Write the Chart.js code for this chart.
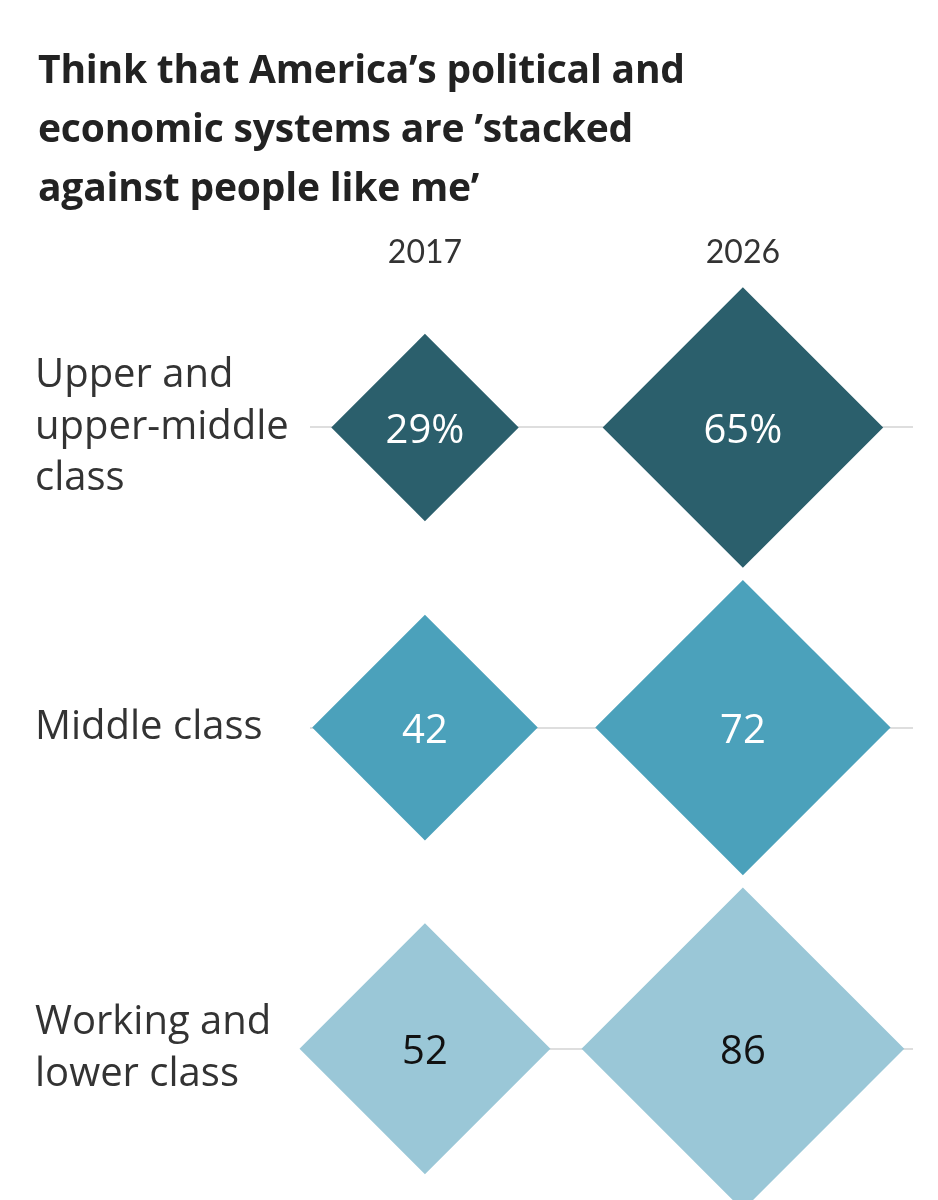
<!DOCTYPE html>
<html><head><meta charset="utf-8">
<script src="https://cdn.jsdelivr.net/npm/chart.js@4.4.1/dist/chart.umd.min.js"></script>
<style>
html,body{margin:0;padding:0;background:#fff;}
#wrap{position:relative;width:938px;height:1200px;overflow:hidden;}
#title{position:absolute;left:38px;top:38px;font:700 39px "Open Sans", sans-serif;line-height:59px;color:#222;letter-spacing:-0.2px;}
canvas{position:absolute;left:0;top:0;}
</style></head><body>
<div id="wrap"><canvas id="c" width="938" height="1200"></canvas>
<div id="title">Think that America’s political and<br>economic systems are ’stacked<br>against people like me’</div></div>
<script>
// ---- data ----
const years = ['2017', '2026'];
const classLabels = [['Upper and', 'upper-middle', 'class'], ['Middle class'], ['Working and', 'lower class']];
const values2017 = [29, 42, 52];
const values2026 = [65, 72, 86];

// ---- styles ----
const fills = ['#2b5f6c', '#4ba1bb', '#9ac7d7'];
const labelColors = ['#ffffff', '#ffffff', '#111111'];
const K = 17.4;           // diamond half-diagonal per sqrt(value)
const ROW_GAP = 12;
const radius = v => K * Math.sqrt(v);

// stack rows by their largest diamond
const rowMax = values2017.map((v, i) => Math.max(v, values2026[i]));
const rowPos = [];
rowMax.forEach((m, i) => {
  rowPos.push(i === 0 ? 0 : rowPos[i - 1] + radius(rowMax[i - 1]) + radius(m) + ROW_GAP);
});

const datasets = classLabels.map((lab, i) => {
  const vals = [values2017[i], values2026[i]];
  return {
    label: lab.join(' '),
    data: vals.map((v, j) => ({ x: j, y: rowPos[i], r: radius(v) })),
    valueText: vals.map(v => i === 0 ? v + '%' : String(v)),
    labelColor: labelColors[i],
    backgroundColor: fills[i],
    borderWidth: 0,
    pointStyle: 'rectRot',
    clip: false
  };
});

const valueLabels = {
  id: 'valueLabels',
  afterDatasetsDraw(chart) {
    const ctx = chart.ctx;
    chart.data.datasets.forEach((ds, di) => {
      chart.getDatasetMeta(di).data.forEach((el, i) => {
        ctx.save();
        ctx.fillStyle = ds.labelColor;
        ctx.font = '400 40px "Open Sans"';
        ctx.textAlign = 'center';
        ctx.textBaseline = 'middle';
        ctx.fillText(ds.valueText[i], el.x, el.y + 4);
        ctx.restore();
      });
    });
  }
};

new Chart(document.getElementById('c'), {
  type: 'bubble',
  data: { datasets },
  plugins: [valueLabels],
  options: {
    responsive: false,
    animation: false,
    events: [],
    layout: { autoPadding: false, padding: { left: 35, right: 25, top: 229, bottom: 0 } },
    plugins: { legend: { display: false }, tooltip: { enabled: false } },
    scales: {
      x: {
        type: 'linear', position: 'top',
        min: -0.3616, max: 1.535,
        grid: { display: false }, border: { display: false },
        afterBuildTicks: s => { s.ticks = years.map((y, j) => ({ value: j })); },
        ticks: {
          autoSkip: false, padding: 4,
          color: '#333',
          font: { family: 'Lato', size: 32, lineHeight: 1.2 },
          callback: v => years[Math.round(v)]
        }
      },
      y: {
        type: 'linear', reverse: true,
        min: -144, max: 772,
        grid: { color: '#dedede', lineWidth: 2, drawTicks: false },
        border: { display: false },
        afterBuildTicks: s => { s.ticks = rowPos.map(p => ({ value: p })); },
        afterFit: s => { s.width = 275; s.paddingTop = 0; s.paddingBottom = 0; },
        ticks: {
          autoSkip: false, crossAlign: 'far', padding: 0,
          color: '#333',
          font: { family: 'Open Sans', size: 40, lineHeight: 1.29 },
          callback: (v, idx) => classLabels[idx]
        }
      }
    }
  }
});
</script>
</body></html>
